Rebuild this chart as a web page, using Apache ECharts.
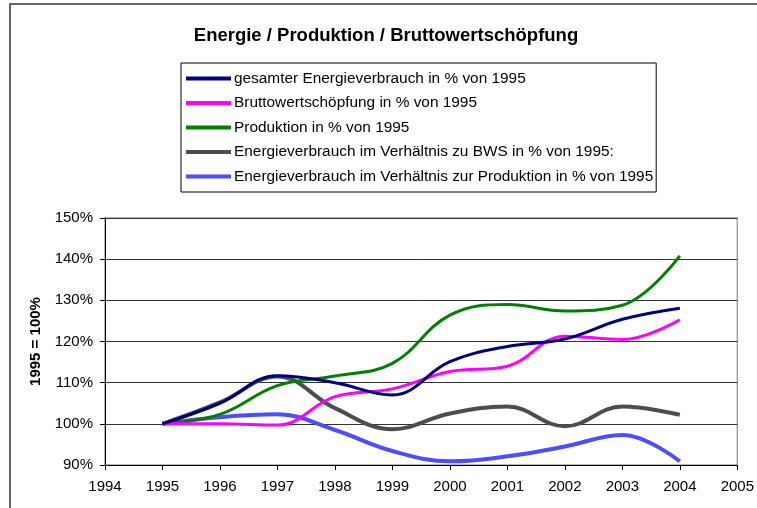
<!DOCTYPE html>
<html>
<head>
<meta charset="utf-8">
<script src="https://cdn.jsdelivr.net/npm/echarts@6/dist/echarts.min.js"></script>
<style>
html,body{margin:0;padding:0;background:#fff;}
#c{width:757px;height:508px;}
</style>
</head>
<body>
<div id="c"></div>
<script>
var years = [1995, 1996, 1997, 1998, 1999, 2000, 2001, 2002, 2003, 2004];
var seriesNames = [
  'gesamter Energieverbrauch in % von 1995',
  'Bruttowertschöpfung in % von 1995',
  'Produktion in % von 1995',
  'Energieverbrauch im Verhältnis zu BWS in % von 1995:',
  'Energieverbrauch im Verhältnis zur Produktion in % von 1995'
];
var energie    = [100, 105.0, 111.7, 110.0, 107.0, 115.1, 118.8, 120.6, 125.4, 128.1];
var bws        = [100, 100.0, 99.7, 106.6, 108.5, 112.7, 114.0, 121.3, 120.5, 125.3];
var produktion = [100, 102.3, 109.3, 111.6, 114.7, 126.4, 129.0, 127.4, 128.8, 140.8];
var ratioBws   = [100, 105.2, 111.5, 103.8, 98.7, 102.5, 104.2, 99.4, 104.2, 102.2];
var ratioProd  = [100, 101.6, 102.3, 98.5, 93.4, 90.9, 92.1, 94.5, 97.3, 90.9];
var yTicks = [90, 100, 110, 120, 130, 140, 150];
var xTicks = [1994, 1995, 1996, 1997, 1998, 1999, 2000, 2001, 2002, 2003, 2004, 2005];

function pairs(vals){ return years.map(function(y,i){ return [y, vals[i]]; }); }

var colors = ['#000080', '#ff00ff', '#008000', '#4d4d4d', '#4d4dff'];
var widths = [3, 3, 3, 4, 4];
var allData = [energie, bws, produktion, ratioBws, ratioProd];

var chart = echarts.init(document.getElementById('c'), null, {renderer:'canvas'});
var FONT = 'Liberation Sans, Arial, sans-serif';
chart.setOption({
  animation: false,
  backgroundColor: '#fff',
  title: {
    text: 'Energie / Produktion / Bruttowertschöpfung',
    left: 381, top: 21, textAlign: 'center',
    textStyle: {fontFamily: FONT, fontSize: 18.5, fontWeight: 'bold', color: '#000'}
  },
  legend: {
    orient: 'vertical',
    left: 181, top: 63,
    padding: [7, 3, 7, 5],
    itemGap: 7.5,
    itemWidth: 45, itemHeight: 4,
    icon: 'rect',
    borderColor: '#000', borderWidth: 1,
    data: seriesNames,
    textStyle: {fontFamily: FONT, fontSize: 15.4, color: '#000', lineHeight: 17, padding: [0,0,0,-2]}
  },
  graphic: [{
    type: 'rect', shape: {x: 10, y: 4, width: 800, height: 600},
    style: {fill: 'none', stroke: '#333', lineWidth: 1.5}, silent: true, z: -1
  }],
  grid: {left: 105, right: 16, top: 218, bottom: 43, show: true, borderColor: '#a0a0a0', borderWidth: 1.5, backgroundColor: 'transparent'},
  xAxis: {
    type: 'value', min: xTicks[0], max: xTicks[xTicks.length-1], interval: 1,
    axisLine: {lineStyle: {color: '#000', width: 1}},
    axisTick: {show: true, length: 5, lineStyle: {color: '#000'}},
    splitLine: {show: false},
    axisLabel: {fontFamily: FONT, fontSize: 15, color: '#000', margin: 14, formatter: function(v){return String(v);}}
  },
  yAxis: {
    type: 'value', min: yTicks[0], max: yTicks[yTicks.length-1], interval: 10,
    name: '1995 = 100%', nameLocation: 'middle', nameGap: 57, nameRotate: 90,
    nameTextStyle: {fontFamily: FONT, fontSize: 15, fontWeight: 'bold', color: '#000'},
    axisLine: {show: true, lineStyle: {color: '#000', width: 1}},
    axisTick: {show: true, length: 5, lineStyle: {color: '#000'}},
    splitLine: {show: true, lineStyle: {color: '#333', width: 1}},
    axisLabel: {fontFamily: FONT, fontSize: 15, color: '#000', margin: 12, formatter: '{value}%'}
  },
  series: seriesNames.map(function(n, i){
    return {
      name: n, type: 'line', smooth: 0.4, symbol: 'none',
      data: pairs(allData[i]),
      itemStyle: {color: colors[i]},
      lineStyle: {color: colors[i], width: widths[i]},
      z: 10 - i
    };
  })
});
</script>
</body>
</html>
